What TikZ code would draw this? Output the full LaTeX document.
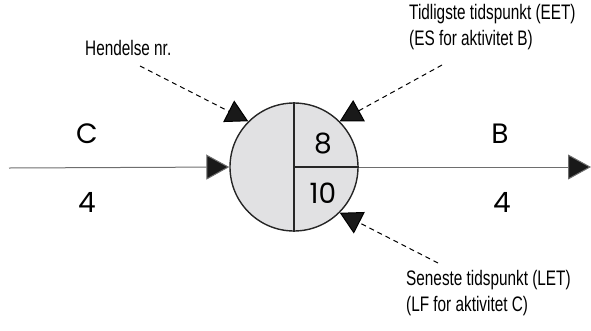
\documentclass[tikz,border=0pt]{standalone}
\usepackage{fontspec}
\usetikzlibrary{arrows.meta}
\newfontfamily\condfont[FakeStretch=0.73]{Liberation Sans}
\newfontfamily\geofont{Poppins}
\definecolor{eventfill}{HTML}{E1E1E3}
\definecolor{lineg}{HTML}{6E6E6E}
\tikzset{
event/.style={draw=black!85, line width=1.4pt, circle, fill=eventfill, minimum size=128pt, inner sep=0pt},
note/.style={font=\condfont\fontsize{21}{26}\selectfont, align=left, inner sep=0pt},
big/.style={font=\geofont\fontsize{28}{30}\selectfont, inner sep=0pt},
activity/.style={draw=lineg, line width=1pt, -{Triangle[length=23pt,width=25pt,fill=black!90]}},
pointer/.style={draw=black, line width=1pt, dash pattern=on 5pt off 4pt, -{Triangle[length=22pt,width=24pt,fill=black!90]}},
}

\begin{document}
\begin{tikzpicture}[x=1pt, y=-1pt]
\useasboundingbox (0,0) rectangle (591,330);

\node[event] (ev) at (294,167) {};
\draw[line width=1.2pt, black!85] (ev.north) -- (ev.south);
\draw[line width=1.2pt, black!85] (ev.center) -- (ev.east);
\node[big] (eet) at (323,143) {8};
\node[big] (let) at (323,193) {10};

% aktiviteter
\coordinate (cstart) at (9,168);
\coordinate (bend) at (591,167);
\draw[activity] (cstart) -- (ev.west);
\draw[activity] (ev.east) -- (bend);
\node[big] (cname) at (87,134) {C};
\node[big] (cdur) at (87,202) {4};
\node[big] (bname) at (500,134) {B};
\node[big] (bdur) at (502,202) {4};

% forklaringer
\node[note, anchor=west] (hend) at (85,48) {Hendelse nr.};
\node[note, anchor=west] (tidl) at (409,27) {Tidligste tidspunkt (EET)\\(ES for aktivitet B)};
\node[note, anchor=west] (sen) at (406,293) {Seneste tidspunkt (LET)\\(LF for aktivitet C)};
\coordinate (hendp) at (140,66);
\coordinate (tidlp) at (442,65);
\coordinate (senp) at (438,263);
\draw[pointer] (hendp) -- (ev.135);
\draw[pointer] (tidlp) -- (ev.45);
\draw[pointer] (senp) -- (ev.-45);

\end{tikzpicture}
\end{document}
